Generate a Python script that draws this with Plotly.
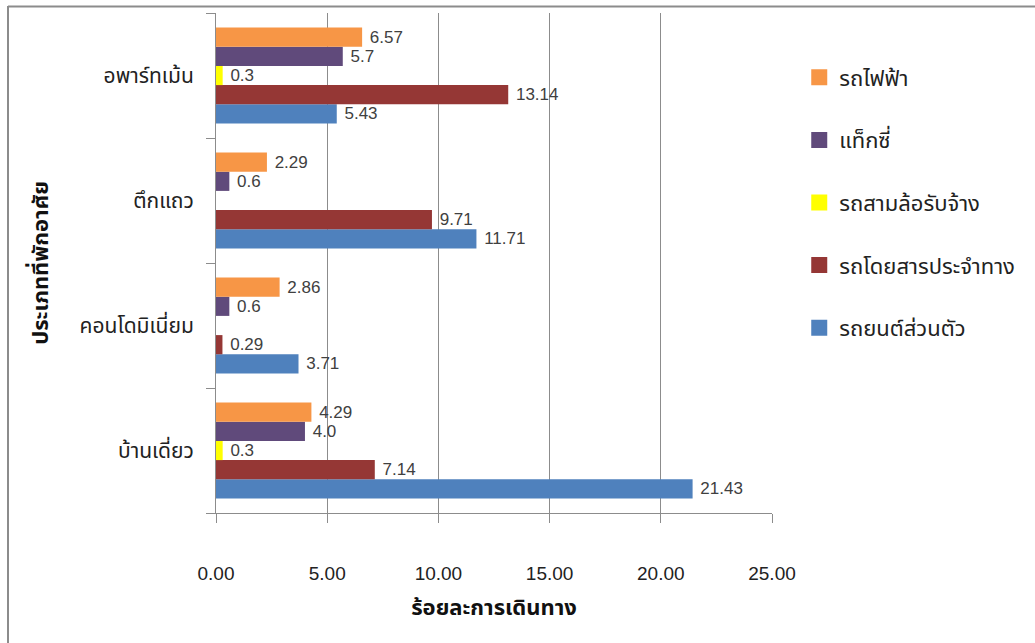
import plotly.graph_objects as go

# Housing types (bottom to top on the chart)
housing = ["บ้านเดี่ยว", "คอนโดมิเนี่ยม", "ตึกแถว", "อพาร์ทเม้น"]

# Share of trips (%) by travel mode for each housing type
car = [21.43, 3.71, 11.71, 5.43]
bus = [7.14, 0.29, 9.71, 13.14]
samlor = [0.3, None, None, 0.3]
taxi = [4.0, 0.6, 0.6, 5.7]
skytrain = [4.29, 2.86, 2.29, 6.57]

series = [
    ("รถยนต์ส่วนตัว", car, "#4F81BD"),
    ("รถโดยสารประจำทาง", bus, "#953735"),
    ("รถสามล้อรับจ้าง", samlor, "#FFFF00"),
    ("แท็กซี่", taxi, "#604A7B"),
    ("รถไฟฟ้า", skytrain, "#F79646"),
]

x_ticks = [0, 5, 10, 15, 20, 25]
x_ticktext = ["0.00", "5.00", "10.00", "15.00", "20.00", "25.00"]

FONT = "Liberation Sans, Arial, sans-serif"
THAI = "Noto Sans Thai, Tahoma, Liberation Sans, sans-serif"


def fmt(v):
    if v is None:
        return ""
    s = f"{v:.1f}" if round(v, 1) == v else f"{v:.2f}"
    return "\u00a0" + s


fig = go.Figure()
for name, vals, color in series:
    fig.add_trace(go.Bar(
        y=housing, x=vals, orientation="h", name=name,
        marker=dict(color=color, line=dict(width=0)),
        text=[fmt(v) for v in vals], textposition="outside", cliponaxis=False,
        textfont=dict(family=FONT, size=17, color="#404040"),
        showlegend=False,
    ))

# Legend entries drawn with square markers, top entry first
for i, (name, vals, color) in enumerate(reversed(series)):
    fig.add_trace(go.Scatter(
        x=[None], y=[None], mode="markers", name=name,
        marker=dict(symbol="square", size=16, color=color),
        legendgroup=f"g{i}",
    ))

fig.update_layout(
    width=1035, height=643,
    margin=dict(l=216, r=263, t=13, b=130),
    paper_bgcolor="white", plot_bgcolor="white",
    barmode="group", bargap=0.232, bargroupgap=0,
    font=dict(family=THAI, color="#222222"),
    showlegend=True,
    legend=dict(
        x=1.049, xanchor="left", y=0.913, yanchor="top",
        traceorder="grouped", tracegroupgap=31,
        font=dict(family=THAI, size=22, color="#222222"),
        itemsizing="trace",
    ),
    xaxis=dict(
        range=[0, 25], tickvals=x_ticks, ticktext=x_ticktext,
        showgrid=True, gridcolor="#8C8C8C", gridwidth=1,
        showline=True, linecolor="#8C8C8C", linewidth=1,
        ticks="outside", ticklen=9, tickcolor="#8C8C8C",
        ticklabelstandoff=34,
        tickfont=dict(family=FONT, size=19, color="#222222"),
        zeroline=False,
        title=dict(text="<b>ร้อยละการเดินทาง</b>", standoff=16,
                   font=dict(family=THAI, size=22, color="#111111")),
    ),
    yaxis=dict(
        type="category", categoryorder="array", categoryarray=housing,
        showgrid=False, showline=True, linecolor="#8C8C8C", linewidth=1,
        ticks="outside", ticklen=9, tickcolor="#8C8C8C", tickson="boundaries",
        tickfont=dict(family=THAI, size=21, color="#222222"),
        ticklabelstandoff=17,
        title=dict(text="<b>ประเภทที่พักอาศัย</b>", standoff=24,
                   font=dict(family=THAI, size=22, color="#111111")),
    ),
    shapes=[
        dict(type="line", xref="paper", yref="paper",
             x0=(8 - 216) / 556, x1=(1035 - 216) / 556,
             y0=(513 - 6.5) / 500, y1=(513 - 6.5) / 500,
             line=dict(color="#8C8C8C", width=2)),
        dict(type="line", xref="paper", yref="paper",
             x0=(8 - 216) / 556, x1=(8 - 216) / 556,
             y0=(513 - 6) / 500, y1=(513 - 643) / 500,
             line=dict(color="#8C8C8C", width=2)),
    ],
)

fig.write_html("out.html")
